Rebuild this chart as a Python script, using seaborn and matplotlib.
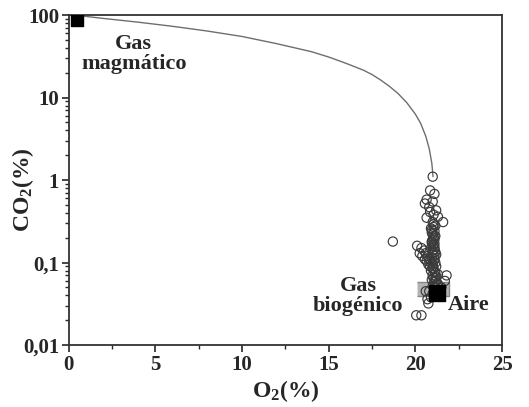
import numpy as np
import pandas as pd
import seaborn as sns
import matplotlib.pyplot as plt

# -----------------------------
# Data
# mixing curve (magmatic gas -> air)
curve_o2 = [0.3, 2, 4, 6, 8, 10, 12, 14, 15, 16, 17, 17.5, 18, 18.5, 19, 19.5,
            20, 20.3, 20.6, 20.8, 20.95, 21.02]
curve_co2 = [100, 91, 82, 73, 64, 55, 45, 36, 31, 26, 21.5, 19, 16.3, 13.7, 11.2, 8.7,
             6.3, 4.9, 3.4, 2.4, 1.6, 1.1]

# sampled points (open circles)
samples_o2 = [21.0, 20.85, 21.1, 20.65, 21.0, 20.55, 20.8, 21.2, 20.85, 21.05,
              20.65, 21.3, 21.6, 21.0, 21.15, 20.9, 21.1, 21.0, 21.05, 20.95,
              21.1, 21.0, 20.9, 21.05, 21.15, 20.95, 21.1, 21.0,
              21.05, 20.95, 21.1, 21.0, 21.05, 21.1, 21.0, 21.1, 21.05, 21.15,
              21.05, 21.15, 21.05, 21.2, 21.1, 21.2, 20.95, 21.15, 21.1, 20.95,
              18.7,
              20.1, 20.35, 20.5, 20.25, 20.6, 20.4, 20.7, 20.55, 20.8, 20.65,
              20.9, 20.75, 21.0, 20.85, 21.2, 21.0, 20.9, 21.1, 21.3, 21.8,
              21.0, 21.15, 21.7, 20.95, 21.1, 21.3, 21.0, 21.5, 21.2, 21.1,
              20.6, 20.8, 21.0, 20.7, 20.9, 20.75,
              20.05, 20.35]
samples_co2 = [1.1, 0.75, 0.68, 0.58, 0.55, 0.52, 0.47, 0.43, 0.41, 0.38,
               0.35, 0.36, 0.31, 0.31, 0.28, 0.26, 0.24, 0.22, 0.2, 0.18,
               0.17, 0.16, 0.15, 0.27, 0.21, 0.23, 0.19, 0.14,
               0.29, 0.25, 0.21, 0.19, 0.165, 0.145, 0.13, 0.12, 0.105, 0.1,
               0.085, 0.075, 0.065, 0.06, 0.05, 0.068, 0.115, 0.135, 0.155, 0.175,
               0.18,
               0.16, 0.15, 0.14, 0.13, 0.13, 0.12, 0.12, 0.11, 0.11, 0.105,
               0.1, 0.095, 0.095, 0.09, 0.09, 0.085, 0.08, 0.078, 0.072, 0.07,
               0.07, 0.065, 0.06, 0.062, 0.058, 0.055, 0.052, 0.05, 0.125, 0.11,
               0.045, 0.045, 0.042, 0.036, 0.038, 0.032,
               0.023, 0.023]

# end members
magma_o2, magma_co2 = [0.45], [88]
air_o2, air_co2 = [21.25], [0.043]
bio_o2, bio_co2 = [21.0], [0.048]

ytick_vals = [0.01, 0.1, 1, 10, 100]
ytick_labels = ["0,01", "0,1", "1", "10", "100"]

# -----------------------------
# Style
sns.set_style("ticks")
plt.rcParams["font.family"] = ["Liberation Serif", "DejaVu Serif"]
plt.rcParams["font.weight"] = "bold"
plt.rcParams["mathtext.fontset"] = "custom"
plt.rcParams["mathtext.rm"] = "Liberation Serif:bold"
plt.rcParams["mathtext.bf"] = "Liberation Serif:bold"
plt.rcParams["mathtext.it"] = "Liberation Serif:bold"

fig = plt.figure(figsize=(5.29, 4.07), dpi=100)
ax = fig.add_axes([0.130, 0.152, 0.819, 0.811])

curve = pd.DataFrame({"O2": curve_o2, "CO2": curve_co2})
samples = pd.DataFrame({"O2": samples_o2, "CO2": samples_co2})

sns.lineplot(data=curve, x="O2", y="CO2", sort=False, color="#6e6e6e", lw=1.0, ax=ax)

# biogenic gas: wide grey box
box = [(-2.3, -1), (2.3, -1), (2.3, 1), (-2.3, 1)]
ax.scatter(bio_o2, bio_co2, marker=box, s=560, facecolor="#b4b4b4",
           edgecolor="#888888", linewidth=1.0, zorder=3)

sns.scatterplot(data=samples, x="O2", y="CO2", marker="o", s=44,
                facecolor="none", edgecolor="#3a3a3a", linewidth=0.85,
                zorder=4, ax=ax)

ax.scatter(magma_o2, magma_co2, marker="s", s=80, color="black", zorder=5)
ax.scatter(air_o2, air_co2, marker="s", s=120, color="black", zorder=5)

ax.set_yscale("log")
ax.set_xlim(0, 25)
ax.set_ylim(0.01, 100)
ax.set_xticks([0, 5, 10, 15, 20, 25])
ax.set_xticks([2.5, 7.5, 12.5, 17.5, 22.5], minor=True)
ax.set_yticks(ytick_vals)
ax.set_yticklabels(ytick_labels)
ax.tick_params(axis="both", which="major", labelsize=15, length=5, width=1.2,
               direction="out", pad=2)
ax.tick_params(axis="both", which="minor", length=3, width=1.0, direction="out")
for lab in ax.get_xticklabels() + ax.get_yticklabels():
    lab.set_fontweight("bold")

for sp in ax.spines.values():
    sp.set_visible(True)
    sp.set_linewidth(1.3)
    sp.set_color("#333333")

ax.set_xlabel("O$_2$(%)", fontsize=17, fontweight="bold", labelpad=2)
ax.set_ylabel("CO$_2$(%)", fontsize=17, fontweight="bold")
ax.yaxis.set_label_coords(-0.075, 0.47)

ax.text(3.75, 34, "Gas\nmagmático", ha="center", va="center", fontsize=16,
        fontweight="bold", linespacing=1.0)
ax.text(16.7, 0.039, "Gas\nbiogénico", ha="center", va="center", fontsize=16,
        fontweight="bold", linespacing=1.0)
ax.text(23.1, 0.031, "Aire", ha="center", va="center", fontsize=16, fontweight="bold")

fig.savefig("out.png", dpi=100)
